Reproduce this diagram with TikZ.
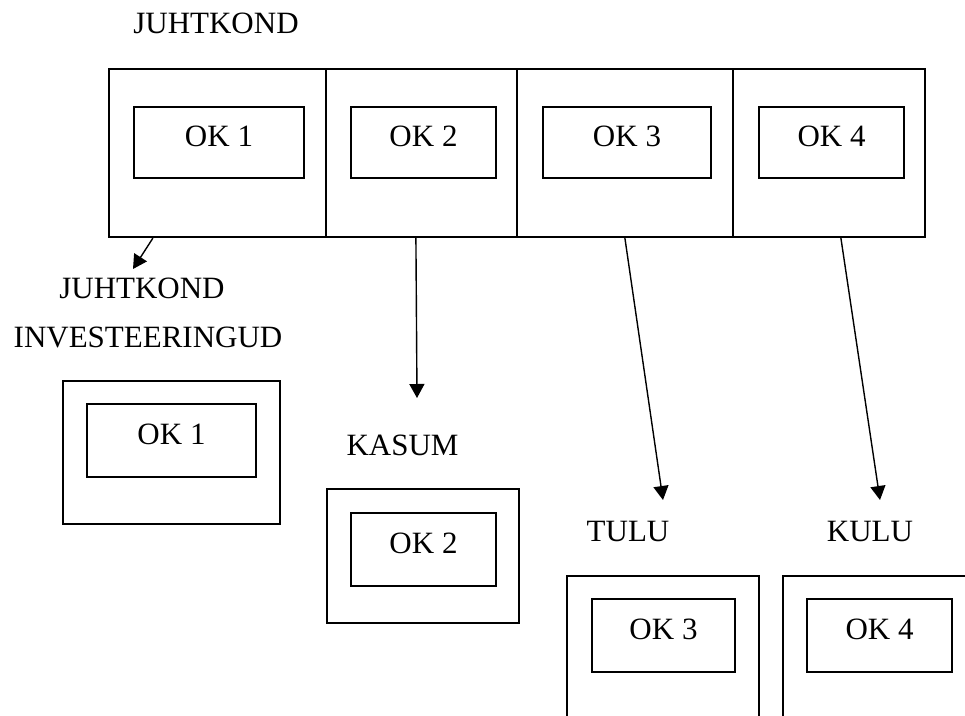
\documentclass[tikz,border=0pt]{standalone}
\usepackage{fontspec}
\setmainfont{Liberation Serif}
\usepackage{tikz}
\usetikzlibrary{positioning, arrows.meta, calc}
\newcommand\okfont{\fontsize{31}{37}\selectfont}
\tikzset{
    zelle/.style  = {draw, line width=2.2pt, minimum height=168pt, inner sep=0pt},
    okbox/.style  = {draw, line width=2.4pt, minimum height=71pt, inner sep=0pt,
                     text depth=12pt, font=\okfont},
    huelle/.style = {draw, line width=2.2pt, inner sep=0pt},
    titel/.style  = {font=\okfont, inner sep=0pt},
    pfeil/.style  = {-{Triangle[length=14pt, width=15pt]}, line width=1.4pt}
}

\begin{document}
\begin{tikzpicture}[x=1pt, y=-1pt]
        \useasboundingbox (0,0) rectangle (965,715);
        \clip (0,0) rectangle (965,715);

        % Juhtkond mit vier Zellen
        \node[titel] (juhtkond) at (216,23) {JUHTKOND};
        \node[zelle, minimum width=217pt] (zelle1) at (217.5,153) {};
        \node[zelle, minimum width=191pt] (zelle2) at (421.5,153) {};
        \node[zelle, minimum width=216pt] (zelle3) at (625,153) {};
        \node[zelle, minimum width=192pt] (zelle4) at (829,153) {};
        \node[okbox, minimum width=170pt] (ok1) at (219,142.5)   {OK 1};
        \node[okbox, minimum width=145pt] (ok2) at (423.5,142.5) {OK 2};
        \node[okbox, minimum width=168pt] (ok3) at (627,142.5)   {OK 3};
        \node[okbox, minimum width=145pt] (ok4) at (831.5,142.5) {OK 4};

        % Untere Einheiten
        \node[titel] (invtitel1) at (142,288) {JUHTKOND};
        \node[titel] (invtitel2) at (148,337) {INVESTEERINGUD};
        \node[huelle, minimum width=217pt, minimum height=143pt] (inv) at (171.5,452.5) {};
        \node[okbox, minimum width=169pt, minimum height=73pt] (invok) at (171.5,440.5) {OK 1};

        \node[titel] (kasumtitel) at (402.5,445) {KASUM};
        \node[huelle, minimum width=192pt, minimum height=134pt] (kasum) at (423,556) {};
        \node[okbox, minimum width=145pt, minimum height=73pt] (kasumok) at (423.5,549.5) {OK 2};

        \node[titel] (tulutitel) at (628,531) {TULU};
        \node[huelle, minimum width=192pt, minimum height=224pt] (tulu) at (663,688) {};
        \node[okbox, minimum width=143pt, minimum height=73pt] (tuluok) at (663.5,635.5) {OK 3};

        \node[titel] (kulutitel) at (870,531) {KULU};
        \node[huelle, minimum width=217pt, minimum height=224pt] (kulu) at (891.5,688) {};
        \node[okbox, minimum width=145pt, minimum height=73pt] (kuluok) at (879.5,635.5) {OK 4};

        % Pfeile
        \coordinate (ziel1) at (133,269);
        \coordinate (ziel2) at (417,398);
        \coordinate (ziel3) at (663,500);
        \coordinate (ziel4) at (880,500);
        \draw[pfeil] ($(zelle1.south west)+(45,0)$)  -- (ziel1);
        \draw[pfeil] ($(zelle2.south west)+(91,0)$)  -- (ziel2);
        \draw[pfeil] ($(zelle3.south west)+(109,0)$) -- (ziel3);
        \draw[pfeil] ($(zelle4.south west)+(109,0)$) -- (ziel4);
    \end{tikzpicture}
\end{document}
